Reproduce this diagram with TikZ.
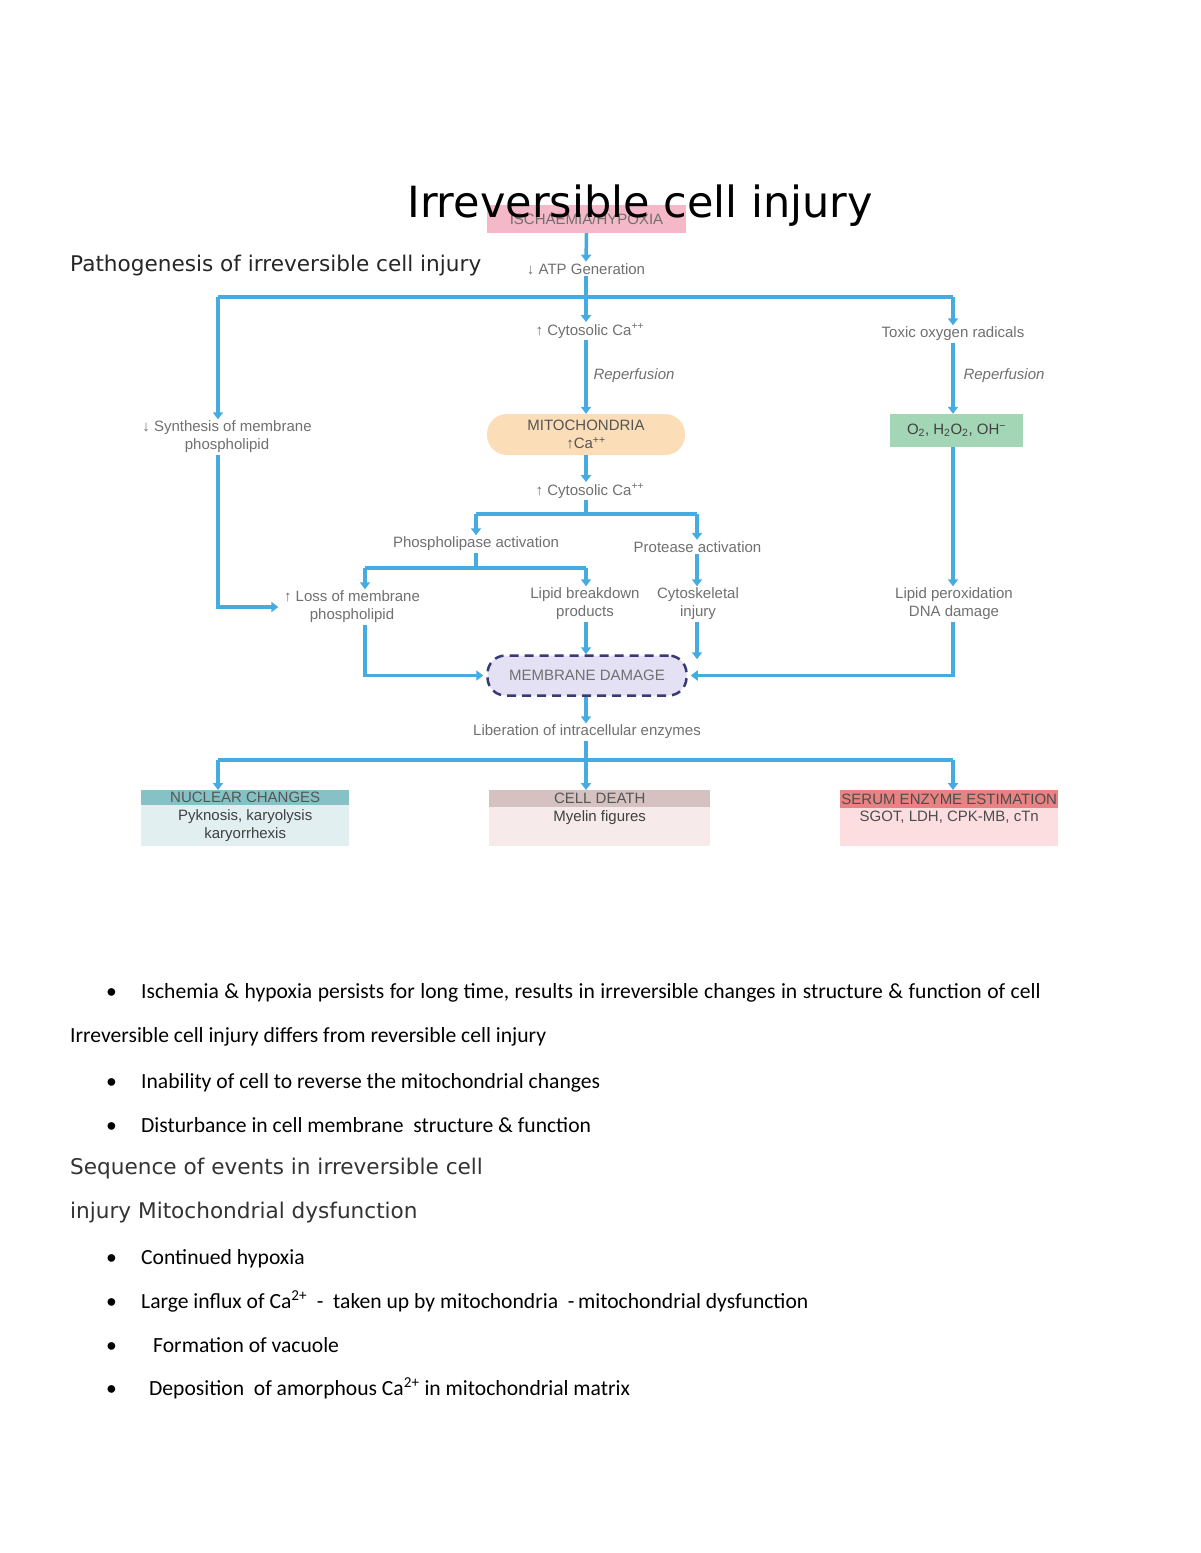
\documentclass[tikz,border=0pt]{standalone}
\usepackage{fontspec}
\setmainfont{Carlito}
\newfontfamily\dejavu{DejaVu Sans}
\newfontfamily\arial{Liberation Sans}
\usetikzlibrary{arrows.meta}
\definecolor{ablue}{HTML}{45ABE0}
\definecolor{dgray}{HTML}{707070}
\definecolor{hgray}{HTML}{555555}
\definecolor{pinkbox}{HTML}{F4B8C8}
\definecolor{peach}{HTML}{FBDDB8}
\definecolor{greenbox}{HTML}{A3D6B4}
\definecolor{lavender}{HTML}{E3E1F3}
\definecolor{navy}{HTML}{3A3A72}
\definecolor{tealhead}{HTML}{86C2C5}
\definecolor{tealbody}{HTML}{E2EFF1}
\definecolor{rosehead}{HTML}{D6C1C1}
\definecolor{rosebody}{HTML}{F6EAEA}
\definecolor{redhead}{HTML}{E98383}
\definecolor{redbody}{HTML}{FCDDE0}
\definecolor{headtext}{HTML}{333333}
\tikzset{
  ln/.style={draw=ablue, line width=3.5pt},
  arr/.style={ln, -{Triangle[width=10pt,length=7pt]}},
  dtext/.style={font=\arial\fontsize{15}{18}\selectfont, text=dgray, align=center, inner sep=1.5pt},
  btext/.style={font=\arial\fontsize{15}{18}\selectfont, text=hgray, align=center, inner sep=0pt},
  body/.style={anchor=base west, inner sep=0pt, font=\fontsize{21.6}{26}\selectfont, text=black},
  heading/.style={anchor=base west, inner sep=0pt, font=\dejavu\fontsize{21.6}{26}\selectfont, text=headtext},
  bul/.style={anchor=base west, inner sep=0pt, font=\fontsize{21.6}{26}\selectfont},
}
\begin{document}
\begin{tikzpicture}[x=1pt,y=-1pt]
\fill[white] (0,0) rectangle (1200,1553);
\useasboundingbox (0,0) rectangle (1200,1553);

% top box
\node[fill=pinkbox, minimum width=199pt, minimum height=28pt, btext, text=dgray] (isch) at (586.5,219) {ISCHAEMIA/HYPOXIA};
\node[anchor=base, inner sep=0pt, font=\dejavu\fontsize{43}{46}\selectfont] (title) at (640,217) {Irreversible cell injury};
\node[heading, text=black!85] (path) at (70,271) {Pathogenesis of irreversible cell injury};

\node[dtext] (atp) at (586,269) {↓ ATP Generation};
\draw[arr] (isch.south) -- (atp.north);

\coordinate (b1) at (586,297);
\coordinate (b1L) at (218,297);
\coordinate (b1R) at (953,297);
\draw[ln] (atp.south) -- (b1);
\draw[ln] (b1L) -- (b1R);

\node[dtext] (synth) at (227,437) {↓ Synthesis of membrane\\phospholipid};
\node[dtext] (cyto1) at (590,331) {↑ Cytosolic Ca\textsuperscript{++}};
\node[dtext] (toxic) at (953,334) {Toxic oxygen radicals};
\draw[arr] (b1L) -- (b1L |- synth.north);
\draw[arr] (b1) -- (b1 |- cyto1.north);
\draw[arr] (b1R) -- (toxic.north);

\node[btext, fill=peach, rounded corners=20pt, minimum width=198pt, minimum height=41pt] (mito) at (586,434.5) {MITOCHONDRIA\\↑Ca\textsuperscript{++}};
\node[btext, fill=greenbox, minimum width=133pt, minimum height=33pt, text=black!75] (green) at (956.5,430.5) {O\textsubscript{2}, H\textsubscript{2}O\textsubscript{2}, OH\textsuperscript{−}};
\draw[arr] (cyto1.south -| mito) -- (mito.north);
\draw[arr] (toxic.south -| b1R) -- (b1R |- green.north);
\node[dtext, font=\arial\itshape\fontsize{15}{18}\selectfont] (rep1) at (634,376) {Reperfusion};
\node[dtext, font=\arial\itshape\fontsize{15}{18}\selectfont] (rep2) at (1004,376) {Reperfusion};

\node[dtext] (cyto2) at (590,491) {↑ Cytosolic Ca\textsuperscript{++}};
\draw[arr] (mito.south) -- (mito.south |- cyto2.north);

\coordinate (b2) at (586,514);
\coordinate (b2L) at (476,514);
\coordinate (b2R) at (697,514);
\draw[ln] (cyto2.south -| b2) -- (b2);
\draw[ln] (b2L) -- (b2R);
\node[dtext] (phos) at (476,544) {Phospholipase activation};
\node[dtext] (prot) at (697.5,547) {Protease activation};
\draw[arr] (b2L) -- (phos.north);
\draw[arr] (b2R) -- (b2R |- prot.north);

\coordinate (b3) at (476,568);
\coordinate (b3L) at (365,568);
\coordinate (b3R) at (586,568);
\draw[ln] (phos.south) -- (b3);
\draw[ln] (b3L) -- (b3R);
\node[dtext] (loss) at (352,607) {↑ Loss of membrane\\phospholipid};
\node[dtext] (lipid) at (585,604) {Lipid breakdown\\products};
\node[dtext] (cytosk) at (698,604) {Cytoskeletal\\injury};
\node[dtext] (perox) at (954,604) {Lipid peroxidation\\DNA damage};
\draw[arr] (b3L) -- (b3L |- loss.north);
\draw[arr] (b3R) -- (b3R |- lipid.north);
\draw[arr] (prot.south -| b2R) -- (b2R |- cytosk.north);
\draw[arr] (green.south -| b1R) -- (b1R |- perox.north);
\draw[arr] (synth.south -| b1L) |- ([xshift=-4pt]loss.west);

\node[btext, text=dgray, draw=navy, dashed, dash pattern=on 9pt off 6pt, line width=2.5pt, fill=lavender, rounded corners=18pt, minimum width=199pt, minimum height=40pt] (memb) at (587,675.5) {MEMBRANE DAMAGE};
\draw[arr] (loss.south -| b3L) |- ([xshift=-3pt]memb.west);
\draw[arr] (lipid.south -| b3R) -- (b3R |- memb.north);
\draw[arr] (cytosk.south -| b2R) -- ([yshift=-5pt]b2R |- memb.north);
\draw[arr] (perox.south -| b1R) |- ([xshift=3pt]memb.east);

\node[dtext] (lib) at (587,732) {Liberation of intracellular enzymes};
\draw[arr] (memb.south -| b1) -- (b1 |- lib.north);
\coordinate (b4) at (586,760);
\coordinate (b4L) at (218,760);
\coordinate (b4R) at (953,760);
\draw[ln] (lib.south -| b4) -- (b4);
\draw[ln] (b4L) -- (b4R);

% bottom boxes
\node[btext, fill=tealhead, minimum width=208pt, minimum height=15pt, anchor=north west] (nuch) at (141,790) {NUCLEAR CHANGES};
\node[btext, fill=tealbody, minimum width=208pt, minimum height=41pt, anchor=north west, text=black!75] (nucb) at (141,805) {Pyknosis, karyolysis\\karyorrhexis};
\node[btext, fill=rosehead, minimum width=221pt, minimum height=17pt, anchor=north west] (cdh) at (489,790) {CELL DEATH};
\node[btext, fill=rosebody, minimum width=221pt, minimum height=39pt, anchor=north west, text=black!75, text depth=22pt] (cdb) at (489,807) {Myelin figures};
\node[btext, fill=redhead, minimum width=218pt, minimum height=18pt, anchor=north west, text=black!70] (seh) at (840,790) {SERUM ENZYME ESTIMATION};
\node[btext, fill=redbody, minimum width=218pt, minimum height=38pt, anchor=north west, text=black!70, text depth=22pt] (seb) at (840,808) {SGOT, LDH, CPK-MB, cTn};
\draw[arr] (b4L) -- (b4L |- nuch.north);
\draw[arr] (b4) -- (b4 |- cdh.north);
\draw[arr] (b4R) -- (b4R |- seh.north);

% text below
\node[bul] (u1) at (106,998) {\textbullet};
\node[body, text width=906pt, align=justify] (t1) at (141,998) {\spaceskip=5.5pt plus 1pt Ischemia \& hypoxia persists for long time, results in irreversible changes in structure \& function of cell};
\node[body] (t2) at (70,1042) {Irreversible cell injury differs from reversible cell injury};
\node[bul] (u3) at (106,1088) {\textbullet};
\node[body] (t3) at (141,1088) {Inability of cell to reverse the mitochondrial changes};
\node[bul] (u4) at (106,1132) {\textbullet};
\node[body] (t4) at (141,1132) {Disturbance in cell membrane\ \ structure \& function};
\node[heading] (h1) at (70,1174) {Sequence of events in irreversible cell};
\node[heading] (h2) at (70,1218) {injury Mitochondrial dysfunction};
\node[bul] (u5) at (106,1264) {\textbullet};
\node[body] (t5) at (141,1264) {Continued hypoxia};
\node[bul] (u6) at (106,1308) {\textbullet};
\node[body] (t6) at (141,1308) {Large influx of Ca\textsuperscript{2+} \ -\ \ taken up by mitochondria\ \ -\,mitochondrial dysfunction};
\node[bul] (u7) at (106,1352) {\textbullet};
\node[body] (t7) at (153,1352) {Formation of vacuole};
\node[bul] (u8) at (106,1395) {\textbullet};
\node[body] (t8) at (149,1395) {Deposition\ \ of amorphous Ca\textsuperscript{2+} in mitochondrial matrix};
\end{tikzpicture}
\end{document}
